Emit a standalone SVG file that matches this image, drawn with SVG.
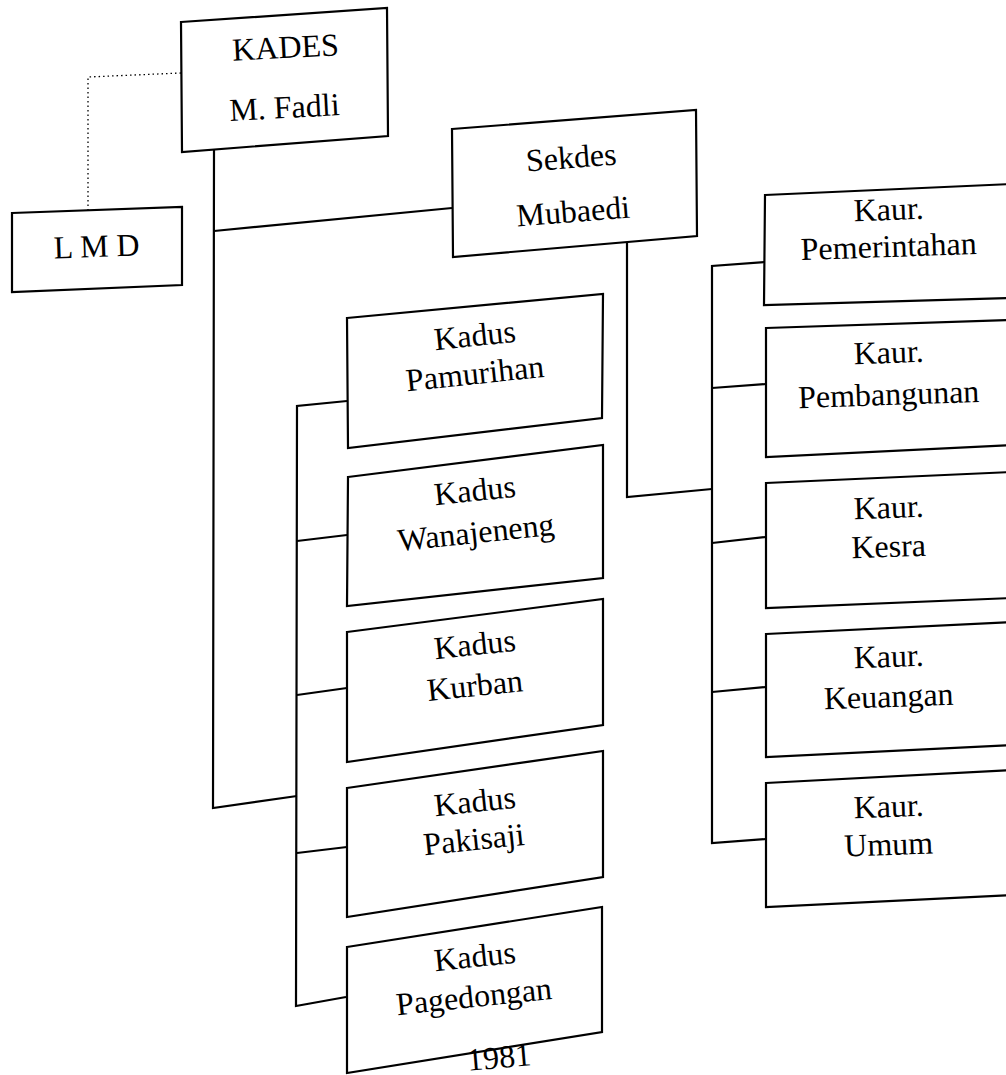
<svg xmlns="http://www.w3.org/2000/svg" width="1006" height="1075" viewBox="0 0 1006 1075">
<style>
.box{fill:#fff;stroke:#000;stroke-width:2.2;stroke-linejoin:miter}
.t{font-family:"Liberation Serif","Times New Roman",serif;font-size:32px;fill:#000;text-anchor:middle}
.c{fill:none;stroke:#000;stroke-width:2.2}
.d{fill:none;stroke:#000;stroke-width:1.3;stroke-dasharray:1.5 3}
</style>
<rect x="0" y="0" width="1006" height="1075" fill="#fff"/>
<g id="connectors">
<polyline class="d" points="181,73 88,77 88,210"/>
<polyline class="c" points="214,150 213,808 297,796"/>
<line class="c" x1="214" y1="231" x2="452" y2="208"/>
<polyline class="c" points="347,401 297,406 296,1006 346,997"/>
<line class="c" x1="297" y1="541" x2="347" y2="535"/>
<line class="c" x1="297" y1="695" x2="347" y2="688"/>
<line class="c" x1="297" y1="853" x2="347" y2="847"/>
<polyline class="c" points="627,242 627,497 712,489"/>
<polyline class="c" points="765,262 712,266 712,843 766,839"/>
<line class="c" x1="712" y1="388" x2="766" y2="384"/>
<line class="c" x1="712" y1="543" x2="766" y2="537"/>
<line class="c" x1="712" y1="692" x2="766" y2="687"/>
</g>
<g id="kades">
<polygon class="box" points="181,22 387,8 388,136 182,152"/>
<text class="t" x="286" y="58" font-size="34" transform="rotate(-3 286 58)">KADES</text>
<text class="t" x="285" y="118" font-size="34" transform="rotate(-3 285 118)">M. Fadli</text>
</g>
<g id="lmd">
<polygon class="box" points="12,213 182,207 182,285 12,292"/>
<text class="t" x="97" y="257" transform="rotate(-2 97 257)">L M D</text>
</g>
<g id="sekdes">
<polygon class="box" points="452,129 696,110 697,236 453,257"/>
<text class="t" x="572" y="168" transform="rotate(-4.5 572 168)">Sekdes</text>
<text class="t" x="574" y="222" transform="rotate(-4.5 574 222)">Mubaedi</text>
</g>
<g id="kadus-pamurihan">
<polygon class="box" points="347,318 603,294 602,418 348,448"/>
<text class="t" x="476" y="346" transform="rotate(-6 476 346)">Kadus</text>
<text class="t" x="476" y="384" transform="rotate(-6 476 384)">Pamurihan</text>
</g>
<g id="kadus-wanajeneng">
<polygon class="box" points="348,477 603,445 603,578 347,606"/>
<text class="t" x="476" y="501" transform="rotate(-6 476 501)">Kadus</text>
<text class="t" x="477" y="543" transform="rotate(-6 477 543)">Wanajeneng</text>
</g>
<g id="kadus-kurban">
<polygon class="box" points="347,632 603,599 603,725 347,762"/>
<text class="t" x="476" y="655" transform="rotate(-6 476 655)">Kadus</text>
<text class="t" x="476" y="696" transform="rotate(-6 476 696)">Kurban</text>
</g>
<g id="kadus-pakisaji">
<polygon class="box" points="347,788 603,751 603,877 347,917"/>
<text class="t" x="476" y="812" transform="rotate(-6 476 812)">Kadus</text>
<text class="t" x="475" y="850" transform="rotate(-6 475 850)">Pakisaji</text>
</g>
<g id="kadus-pagedongan">
<polygon class="box" points="347,947 602,907 602,1032 347,1073"/>
<text class="t" x="476" y="967" transform="rotate(-6 476 967)">Kadus</text>
<text class="t" x="475" y="1007" transform="rotate(-6 475 1007)">Pagedongan</text>
</g>
<text class="t" x="500" y="1068" font-size="18" transform="rotate(-5 500 1068)">1981</text>
<g id="kaur-pemerintahan">
<polygon class="box" points="765,195 1012,184 1012,298 764,305"/>
<text class="t" x="889" y="220" transform="rotate(-2 889 220)">Kaur.</text>
<text class="t" x="889" y="257" transform="rotate(-2 889 257)">Pemerintahan</text>
</g>
<g id="kaur-pembangunan">
<polygon class="box" points="766,328 1012,320 1012,445 766,457"/>
<text class="t" x="889" y="363" transform="rotate(-2 889 363)">Kaur.</text>
<text class="t" x="889" y="405" transform="rotate(-2 889 405)">Pembangunan</text>
</g>
<g id="kaur-kesra">
<polygon class="box" points="766,483 1012,472 1012,598 766,608"/>
<text class="t" x="889" y="518" transform="rotate(-2 889 518)">Kaur.</text>
<text class="t" x="889" y="557" transform="rotate(-2 889 557)">Kesra</text>
</g>
<g id="kaur-keuangan">
<polygon class="box" points="766,634 1012,622 1012,745 766,757"/>
<text class="t" x="889" y="667" transform="rotate(-2 889 667)">Kaur.</text>
<text class="t" x="889" y="707" transform="rotate(-2 889 707)">Keuangan</text>
</g>
<g id="kaur-umum">
<polygon class="box" points="766,783 1012,770 1012,895 766,907"/>
<text class="t" x="889" y="817" transform="rotate(-2 889 817)">Kaur.</text>
<text class="t" x="889" y="855" transform="rotate(-2 889 855)">Umum</text>
</g>
</svg>
